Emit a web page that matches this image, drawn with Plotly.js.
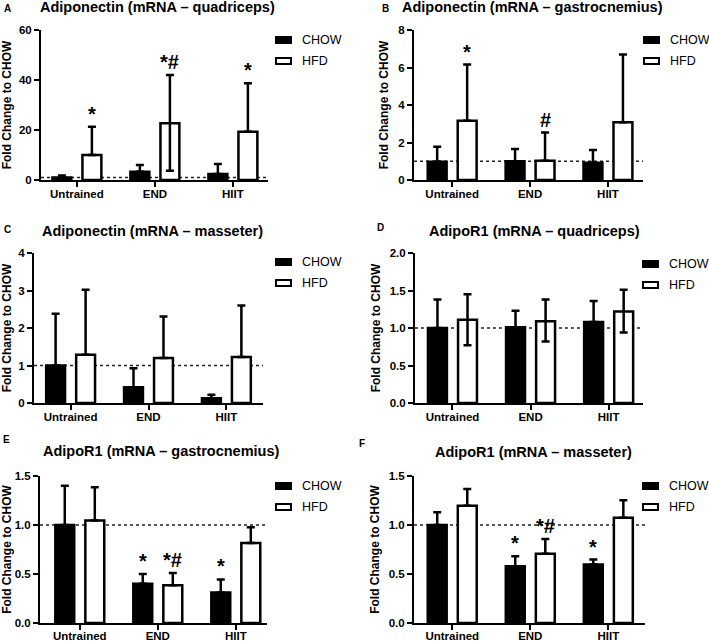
<!DOCTYPE html>
<html><head><meta charset="utf-8">
<script src="https://cdn.plot.ly/plotly-3.0.1.min.js"></script>
<style>html,body{margin:0;padding:0;background:#fff;}#chart{width:709px;height:643px;}</style>
</head><body><div id="chart"></div>
<script>
// ---------- data ----------
const categories = ['Untrained', 'END', 'HIIT'];
const seriesNames = ['CHOW', 'HFD'];
const panelLetters = ['A', 'B', 'C', 'D', 'E', 'F'];
const panelTitles = [
  'Adiponectin (mRNA – quadriceps)',
  'Adiponectin (mRNA – gastrocnemius)',
  'Adiponectin (mRNA – masseter)',
  'AdipoR1 (mRNA – quadriceps)',
  'AdipoR1 (mRNA – gastrocnemius)',
  'AdipoR1 (mRNA – masseter)'
];
const yAxisTitle = 'Fold Change to CHOW';
const yMax = [60, 8, 4, 2, 1.5, 1.5];
const yStep = [20, 2, 1, 0.5, 0.5, 0.5];

// A: Adiponectin quadriceps
const chowA = [1.0, 3.3, 2.4];      const chowErrA = [0.8, 2.7, 4.0];
const hfdA = [10.0, 22.7, 19.3];    const hfdErrA = [11.3, 19.3, 19.4];  const hfdErrLowA = [0, 19.0, 0];
const sigChowA = ['', '', ''];      const sigHfdA = ['*', '*#', '*'];
// B: Adiponectin gastrocnemius
const chowB = [0.98, 1.0, 0.92];    const chowErrB = [0.8, 0.65, 0.68];
const hfdB = [3.16, 1.03, 3.08];    const hfdErrB = [3.0, 1.5, 3.62];    const hfdErrLowB = [0, 0, 0];
const sigChowB = ['', '', ''];      const sigHfdB = ['*', '#', ''];
// C: Adiponectin masseter
const chowC = [1.0, 0.42, 0.13];    const chowErrC = [1.38, 0.51, 0.09];
const hfdC = [1.29, 1.2, 1.23];     const hfdErrC = [1.73, 1.11, 1.37];  const hfdErrLowC = [0, 0, 0];
const sigChowC = ['', '', ''];      const sigHfdC = ['', '', ''];
// D: AdipoR1 quadriceps
const chowD = [1.0, 1.01, 1.08];    const chowErrD = [0.38, 0.22, 0.28];
const hfdD = [1.11, 1.09, 1.22];    const hfdErrD = [0.34, 0.29, 0.29];  const hfdErrLowD = [0.34, 0.27, 0.28];
const sigChowD = ['', '', ''];      const sigHfdD = ['', '', ''];
// E: AdipoR1 gastrocnemius
const chowE = [1.0, 0.40, 0.31];    const chowErrE = [0.4, 0.10, 0.135];
const hfdE = [1.045, 0.385, 0.817]; const hfdErrE = [0.34, 0.125, 0.16]; const hfdErrLowE = [0, 0, 0];
const sigChowE = ['', '*', '*'];    const sigHfdE = ['', '*#', ''];
// F: AdipoR1 masseter
const chowF = [1.0, 0.58, 0.597];   const chowErrF = [0.13, 0.10, 0.05];
const hfdF = [1.197, 0.707, 1.073]; const hfdErrF = [0.17, 0.15, 0.18];  const hfdErrLowF = [0, 0, 0];
const sigChowF = ['', '*', '*'];    const sigHfdF = ['', '*#', ''];

const panelData = [
  {chow: chowA, chowErr: chowErrA, hfd: hfdA, hfdErr: hfdErrA, hfdLow: hfdErrLowA, sigC: sigChowA, sigH: sigHfdA},
  {chow: chowB, chowErr: chowErrB, hfd: hfdB, hfdErr: hfdErrB, hfdLow: hfdErrLowB, sigC: sigChowB, sigH: sigHfdB},
  {chow: chowC, chowErr: chowErrC, hfd: hfdC, hfdErr: hfdErrC, hfdLow: hfdErrLowC, sigC: sigChowC, sigH: sigHfdC},
  {chow: chowD, chowErr: chowErrD, hfd: hfdD, hfdErr: hfdErrD, hfdLow: hfdErrLowD, sigC: sigChowD, sigH: sigHfdD},
  {chow: chowE, chowErr: chowErrE, hfd: hfdE, hfdErr: hfdErrE, hfdLow: hfdErrLowE, sigC: sigChowE, sigH: sigHfdE},
  {chow: chowF, chowErr: chowErrF, hfd: hfdF, hfdErr: hfdErrF, hfdLow: hfdErrLowF, sigC: sigChowF, sigH: sigHfdF}
];

// ---------- geometry (pixels) ----------
const W = 709, H = 643;
const geom = [
  {x0: 41, x1: 268, yTop: 30, yBot: 180, xr: [-0.46, 2.45], legX: 300, legY: 40, letter: [7, 9], title: [157, 7], so: -3},
  {x0: 414, x1: 643, yTop: 30, yBot: 180, xr: [-0.49, 2.45], legX: 668, legY: 40, letter: [385, 9], title: [532, 7], so: -3},
  {x0: 34, x1: 263, yTop: 253, yBot: 403, xr: [-0.47, 2.47], legX: 300, legY: 262, letter: [7, 229], title: [152, 231], so: -3},
  {x0: 415, x1: 643, yTop: 253, yBot: 403, xr: [-0.48, 2.44], legX: 667, legY: 264, letter: [380, 227], title: [534, 231], so: -3},
  {x0: 40, x1: 267, yTop: 476, yBot: 623, xr: [-0.51, 2.40], legX: 300, legY: 486, letter: [6, 439], title: [161, 451], so: -4},
  {x0: 414, x1: 645, yTop: 476, yBot: 623, xr: [-0.49, 2.47], legX: 667, legY: 486, letter: [362, 443], title: [533, 452], so: -4}
];
const px = v => v / W;
const py = v => 1 - v / H;
const FONT = 'Arial, "Liberation Sans", sans-serif';
const bargap = 0.23, bargroupgap = 0.37;
const slotOff = (1 - bargap) / 4;
const seriesFill = ['#000', '#fff'];

const traces = [];
const layout = {
  width: W, height: H,
  margin: {l: 0, r: 0, t: 0, b: 0},
  paper_bgcolor: '#fff', plot_bgcolor: '#fff',
  barmode: 'group', bargap: bargap, bargroupgap: bargroupgap,
  font: {family: FONT, color: '#000', size: 12},
  showlegend: false,
  annotations: [], shapes: []
};

panelData.forEach((d, i) => {
  const g = geom[i];
  const n = i === 0 ? '' : String(i + 1);
  const xa = 'x' + n, ya = 'y' + n;
  const errStyle = {type: 'data', symmetric: false, color: '#000', thickness: 2.5, width: 4, visible: true};
  traces.push({
    type: 'bar', name: seriesNames[0], x: categories, y: d.chow, xaxis: xa, yaxis: ya,
    marker: {color: seriesFill[0], line: {color: '#000', width: 2.5}},
    error_y: Object.assign({array: d.chowErr, arrayminus: [0, 0, 0]}, errStyle),
    hoverinfo: 'skip'
  });
  traces.push({
    type: 'bar', name: seriesNames[1], x: categories, y: d.hfd, xaxis: xa, yaxis: ya,
    marker: {color: seriesFill[1], line: {color: '#000', width: 2.5}},
    error_y: Object.assign({array: d.hfdErr, arrayminus: d.hfdLow}, errStyle),
    hoverinfo: 'skip'
  });
  const axBase = {
    showline: true, linewidth: 2, linecolor: '#000', ticks: 'outside', ticklen: 5, tickwidth: 2,
    tickcolor: '#000', showgrid: false, zeroline: false, fixedrange: true,
    tickfont: {family: FONT, size: 11.5, color: '#000', weight: 'bold'}
  };
  layout['xaxis' + n] = Object.assign({}, axBase, {
    domain: [px(g.x0), px(g.x1)], anchor: ya, type: 'category', range: g.xr,
    categoryorder: 'array', categoryarray: categories, ticklabelstandoff: g.so
  });
  layout['yaxis' + n] = Object.assign({}, axBase, {
    domain: [py(g.yBot), py(g.yTop)], anchor: xa, range: [0, yMax[i]], dtick: yStep[i], tick0: 0,
    tickformat: yStep[i] < 1 ? '.1f' : '',
    title: {text: yAxisTitle, font: {family: FONT, size: 12, color: '#000', weight: 'bold'}, standoff: 7}
  });
  // legend (swatches + labels)
  seriesNames.forEach((s, k) => {
    const cy = g.legY + k * 21;
    layout.shapes.push({
      type: 'rect', xref: 'paper', yref: 'paper',
      x0: px(g.legX - 24), x1: px(g.legX - 9), y0: py(cy + 3), y1: py(cy - 3),
      fillcolor: seriesFill[k], line: {color: '#000', width: 2}
    });
    layout.annotations.push({
      xref: 'paper', yref: 'paper', x: px(g.legX), y: py(cy), xanchor: 'left', yanchor: 'middle',
      text: s, showarrow: false, font: {family: FONT, size: 12.5, color: '#000'}
    });
  });
  // reference line at fold change 1
  layout.shapes.push({
    type: 'line', xref: xa + ' domain', yref: ya, x0: 0, x1: 1, y0: 1, y1: 1,
    line: {color: '#222', width: 1.5, dash: 'dot'}, layer: 'below'
  });
  // panel letter and title
  layout.annotations.push({
    xref: 'paper', yref: 'paper', x: px(g.letter[0]), y: py(g.letter[1]), xanchor: 'center', yanchor: 'middle',
    text: panelLetters[i], showarrow: false, font: {family: FONT, size: 10, color: '#000', weight: 'bold'}
  });
  layout.annotations.push({
    xref: 'paper', yref: 'paper', x: px(g.title[0]), y: py(g.title[1]), xanchor: 'center', yanchor: 'middle',
    text: panelTitles[i], showarrow: false, font: {family: FONT, size: 14.5, color: '#000', weight: 'bold'}
  });
  // significance marks
  categories.forEach((c, k) => {
    [[d.sigC, d.chow, d.chowErr, -slotOff], [d.sigH, d.hfd, d.hfdErr, slotOff]].forEach(s => {
      const lab = s[0][k];
      if (!lab) return;
      layout.annotations.push({
        xref: xa, yref: ya, x: k + s[3], y: s[1][k] + s[2][k], xanchor: 'center', yanchor: 'bottom',
        yshift: 0, text: lab, showarrow: false,
        font: {family: FONT, size: 20, color: '#000', weight: 'bold'}
      });
    });
  });
});

Plotly.newPlot('chart', traces, layout, {displayModeBar: false, staticPlot: true});
</script></body></html>
